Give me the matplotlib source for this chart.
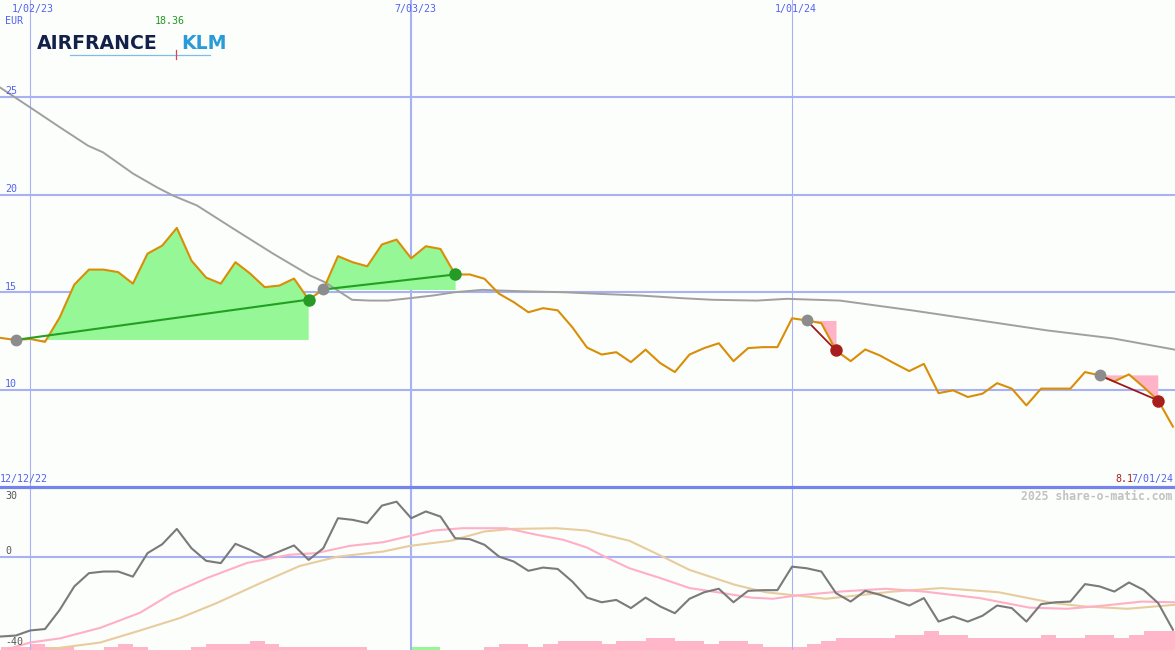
import numpy as np
import pandas as pd
import matplotlib
matplotlib.use('Agg')
import matplotlib.pyplot as plt
from matplotlib.lines import Line2D

# ---------------- data ----------------
START = '2022-12-19'   # first weekly bar (Mondays)

PRICE = [12.65, 12.55, 12.6, 12.45, 13.7, 15.39, 16.16, 16.16, 16.03, 15.44,
         16.98, 17.39, 18.3, 16.62, 15.75, 15.44, 16.54, 15.96, 15.26, 15.34,
         15.7, 14.62, 15.14, 16.85, 16.54, 16.33, 17.45, 17.70, 16.74, 17.36,
         17.22, 15.91, 15.91, 15.69, 14.92, 14.49, 13.97, 14.18, 14.07, 13.2,
         12.16, 11.8, 11.92, 11.41, 12.05, 11.36, 10.9, 11.8, 12.13, 12.38,
         11.46, 12.13, 12.18, 12.18, 13.66, 13.55, 13.41, 12.01, 11.46, 12.06,
         11.75, 11.34, 10.95, 11.32, 9.82, 9.96, 9.62, 9.79, 10.33, 10.05,
         9.19, 10.05, 10.05, 10.05, 10.9, 10.73, 10.42, 10.78, 10.13, 9.44,
         8.1]

# long moving average of price (week position, value)
MA_WEEK = [-0.07, 1.98, 4.03, 5.94, 6.96, 9.01, 10.65, 11.74, 13.38, 15.84,
           18.57, 21.09, 22.12, 23.96, 25.19, 26.42, 28.12, 29.49, 30.99, 32.83,
           35.43, 38.36, 40.68, 43.62, 46.55, 48.6, 51.6, 53.65, 57.27, 62.25,
           66.83, 71.4, 75.9, 80.14]
MA_VAL = [25.51, 24.49, 23.46, 22.52, 22.18, 21.09, 20.38, 19.96, 19.45, 18.27,
          16.98, 15.86, 15.51, 14.61, 14.57, 14.57, 14.71, 14.83, 15.0, 15.12,
          15.05, 15.0, 14.92, 14.83, 14.69, 14.61, 14.57, 14.66, 14.57, 14.06,
          13.55, 13.04, 12.63, 12.05]

# trades: (entry week, exit week)
TRADES = [(1, 21), (22, 31), (55, 57), (75, 79)]

# oscillator (lower panel), one value per week
OSC = [-34.2, -33.8, -31.6, -31.0, -22.8, -12.7, -7.0, -6.3, -6.3, -8.5,
       1.6, 5.4, 12.0, 3.7, -1.7, -2.7, 5.6, 3.0, -0.3, 2.3,
       4.9, -1.3, 3.7, 16.6, 15.9, 14.5, 22.0, 23.7, 16.6, 19.5,
       17.3, 8.0, 7.6, 5.2, 0.1, -2.0, -6.0, -4.6, -5.2, -10.6,
       -17.5, -19.5, -18.5, -22.0, -17.5, -21.3, -24.2, -18.0, -15.2, -13.7,
       -19.5, -14.6, -14.3, -14.3, -4.2, -4.9, -6.3, -15.6, -19.2, -14.6,
       -16.3, -18.5, -20.9, -17.7, -27.8, -25.6, -27.8, -25.3, -20.9, -22.0,
       -27.8, -20.3, -19.5, -19.2, -11.7, -12.7, -14.9, -11.0, -14.2, -19.9,
       -31.3]

OSC_FAST_WEEK = [0.5, 1.98, 4.03, 6.76, 9.49, 11.7, 14.1, 16.8, 19.7, 21.5,
                 23.8, 26.1, 28.2, 29.5, 31.5, 34.5, 36.4, 38.4, 40.0, 41.2,
                 42.9, 45.0, 47.0, 48.9, 51.2, 52.7, 54.3, 57.3, 60.4, 63.0,
                 66.8, 70.2, 72.8, 75.3, 77.9, 80.1]
OSC_FAST = [-39.5, -36.8, -35.0, -30.5, -24.0, -15.6, -9.0, -2.6, 0.9, 1.6,
            4.7, 6.3, 9.4, 11.3, 12.3, 12.3, 9.7, 7.3, 4.0, 0.1,
            -4.9, -9.1, -13.4, -15.2, -17.5, -18.0, -16.6, -14.9, -13.7, -14.9,
            -17.7, -21.8, -22.3, -20.9, -19.2, -19.5]

OSC_SLOW_WEEK = [3.35, 6.76, 9.5, 12.2, 14.7, 17.7, 20.4, 23.0, 26.1, 27.9,
                 30.7, 33.0, 34.9, 37.9, 40.0, 42.9, 45.0, 47.0, 50.1, 52.2,
                 54.3, 56.3, 58.4, 60.9, 64.2, 68.1, 71.9, 74.0, 76.9, 80.1]
OSC_SLOW = [-39.6, -36.8, -31.6, -26.3, -19.9, -11.3, -3.9, 0.1, 2.3, 4.7,
            6.9, 10.9, 12.0, 12.3, 11.3, 6.9, 0.6, -5.6, -12.0, -15.2,
            -16.6, -18.0, -16.6, -14.9, -13.4, -15.2, -19.9, -21.3, -22.3, -20.6]

# relative weekly volume levels
VOLUME = [1, 1, 2, 1, 1, 0, 0, 1, 2, 1,
          0, 0, 0, 1, 2, 2, 2, 3, 2, 1,
          1, 1, 1, 1, 1, 0, 0, 0, 1, 1,
          0, 0, 0, 1, 2, 2, 1, 2, 3, 3,
          3, 2, 3, 3, 4, 4, 3, 3, 2, 3,
          3, 2, 1, 1, 1, 2, 3, 4, 4, 4,
          4, 5, 5, 6, 5, 5, 4, 4, 4, 4,
          4, 5, 4, 4, 5, 5, 4, 5, 6, 6,
          6]
VOLUME_UP_WEEKS = [28, 29]

PRICE_TICKS = [10, 15, 20, 25]
OSC_TICKS = [30, 0, -40]
DATE_TICKS = ['2023-01-02', '2023-07-03', '2024-01-01']
DATE_LABELS = ['1/02/23', '7/03/23', '1/01/24']
DATE_LW = [0.8, 1.5, 0.8]
MAX_LABEL = '18.36'
LAST_LABEL = '8.1'
FIRST_DATE_LABEL = '12/12/22'
LAST_DATE_LABEL = '7/01/24'

# ---------------- helpers ----------------
t0 = pd.Timestamp(START)


def wk(w):
    return t0 + pd.to_timedelta(np.asarray(w, dtype=float) * 7, unit='D')


DATES = wk(np.arange(len(PRICE)))
price = np.array(PRICE)

BG = '#fcfefb'
GRID = '#a9b1f5'
BLUE_TXT = '#5262ee'
W, H = 1175, 650

fig = plt.figure(figsize=(W / 100, H / 100), dpi=100, facecolor=BG)
split = 1 - 487 / H
ax = fig.add_axes([0, split, 1, 1 - split])
ax2 = fig.add_axes([0, 0, 1, split])
axv = ax2.twinx()
ax2.set_zorder(axv.get_zorder() + 1)
ax2.patch.set_visible(False)
ax.set_facecolor(BG)
axv.set_facecolor(BG)

xl = (t0 - pd.Timedelta(days=0.5), t0 + pd.Timedelta(days=80 * 7 + 1))
for a in (ax, ax2, axv):
    a.set_xlim(*xl)
    for s in a.spines.values():
        s.set_visible(False)
    a.set_xticks([])
    a.set_yticks([])

ax.set_ylim(5, 30)
ax2.set_ylim(-40, 30)
axv.set_ylim(0, 163 / 3.1)

# grid
for y in PRICE_TICKS:
    ax.axhline(y, color=GRID, lw=1.5, zorder=0)
for d, lw in zip(DATE_TICKS, DATE_LW):
    ax.axvline(pd.Timestamp(d), color=GRID, lw=lw, zorder=0)
    ax2.axvline(pd.Timestamp(d), color=GRID, lw=lw, zorder=0)
ax2.axhline(0, color=GRID, lw=1.5, zorder=0)
ax2.axhline(30, color='#7584ec', lw=2.3, zorder=5, clip_on=False)

# trade fills
for a_i, b_i in TRADES:
    xs = DATES[a_i:b_i + 1]
    ys = price[a_i:b_i + 1]
    entry = price[a_i]
    ax.fill_between(xs, ys, entry, where=ys >= entry, interpolate=True,
                    color='#95f795', lw=0, zorder=1)
    ax.fill_between(xs, ys, entry, where=ys <= entry, interpolate=True,
                    color='#ffb3c6', lw=0, zorder=1)

# moving average and price
ax.plot(wk(MA_WEEK), MA_VAL, color='#a0a0a0', lw=1.4, zorder=2)
ax.plot(DATES, price, color='#d98e08', lw=1.5, zorder=3)

# trade lines and markers
for a_i, b_i in TRADES:
    win = price[b_i] >= price[a_i]
    c_line = '#22a022' if win else '#9c1a1a'
    c_dot = '#259a25' if win else '#a81e1e'
    ax.plot([DATES[a_i], DATES[b_i]], [price[a_i], price[b_i]],
            color=c_line, lw=1.5 if win else 1.3, zorder=4)
    ax.plot([DATES[a_i]], [price[a_i]], 'o', ms=8.5, color='#8c8c8c', mec='none', zorder=5)
    ax.plot([DATES[b_i]], [price[b_i]], 'o', ms=9, color=c_dot, mec='none', zorder=5)

# volume
vcol = ['#95f795' if i in VOLUME_UP_WEEKS else '#ffb6c9' for i in range(len(VOLUME))]
axv.bar(DATES, VOLUME, width=7, align='edge', color=vcol, lw=0, zorder=1)

# oscillator lines
ax2.plot(wk(OSC_SLOW_WEEK), OSC_SLOW, color='#e8cc9e', lw=1.5, zorder=2)
ax2.plot(wk(OSC_FAST_WEEK), OSC_FAST, color='#ffafc6', lw=1.5, zorder=3)
ax2.plot(DATES, OSC, color='#7a7a7a', lw=1.5, zorder=4)


# ---------------- texts ----------------
def ftxt(x, y, s, **kw):
    kw.setdefault('family', 'DejaVu Sans Mono')
    kw.setdefault('fontsize', 7.2)
    kw.setdefault('va', 'center')
    fig.text(x / W, 1 - y / H, s, **kw)


for lab, xpix in zip(DATE_LABELS, [33, 415, 796]):
    ftxt(xpix, 9, lab, color=BLUE_TXT, ha='center')
ftxt(5, 21.5, 'EUR', color=BLUE_TXT, ha='left')
ftxt(170, 21.5, MAX_LABEL, color='#229a22', ha='center')
for v, ypix in zip(PRICE_TICKS, [384, 286.5, 188.5, 91.5]):
    ftxt(5, ypix, str(v), color=BLUE_TXT, ha='left')
ftxt(0, 479, FIRST_DATE_LABEL, color=BLUE_TXT, ha='left')
ftxt(1133, 479, LAST_LABEL, color='#a82020', ha='right')
ftxt(1173, 479, LAST_DATE_LABEL, color=BLUE_TXT, ha='right')
ftxt(1172, 496, '2025 share-o-matic.com', color='#c2c2c2', ha='right',
     fontsize=8.3, fontweight='bold')
for v, ypix in zip(OSC_TICKS, [496, 551, 642]):
    ftxt(5, ypix, str(v), color='#555555', ha='left')

# logo
fig.text(37 / W, 1 - 43.5 / H, 'AIRFRANCE', family='DejaVu Sans', fontweight='bold',
         fontsize=13.6, color='#13214a', ha='left', va='center')
fig.text(181 / W, 1 - 43.5 / H, 'KLM', family='DejaVu Sans', fontweight='bold',
         fontsize=13.6, color='#2a9bd8', ha='left', va='center')
fig.add_artist(Line2D([70 / W, 210 / W], [1 - 55 / H, 1 - 55 / H],
                      color='#7fbde6', lw=0.9, transform=fig.transFigure))
fig.add_artist(Line2D([176 / W, 176 / W], [1 - 50 / H, 1 - 59 / H],
                      color='#e0405a', lw=0.9, transform=fig.transFigure))

fig.savefig('out.png', dpi=100, facecolor=BG)
